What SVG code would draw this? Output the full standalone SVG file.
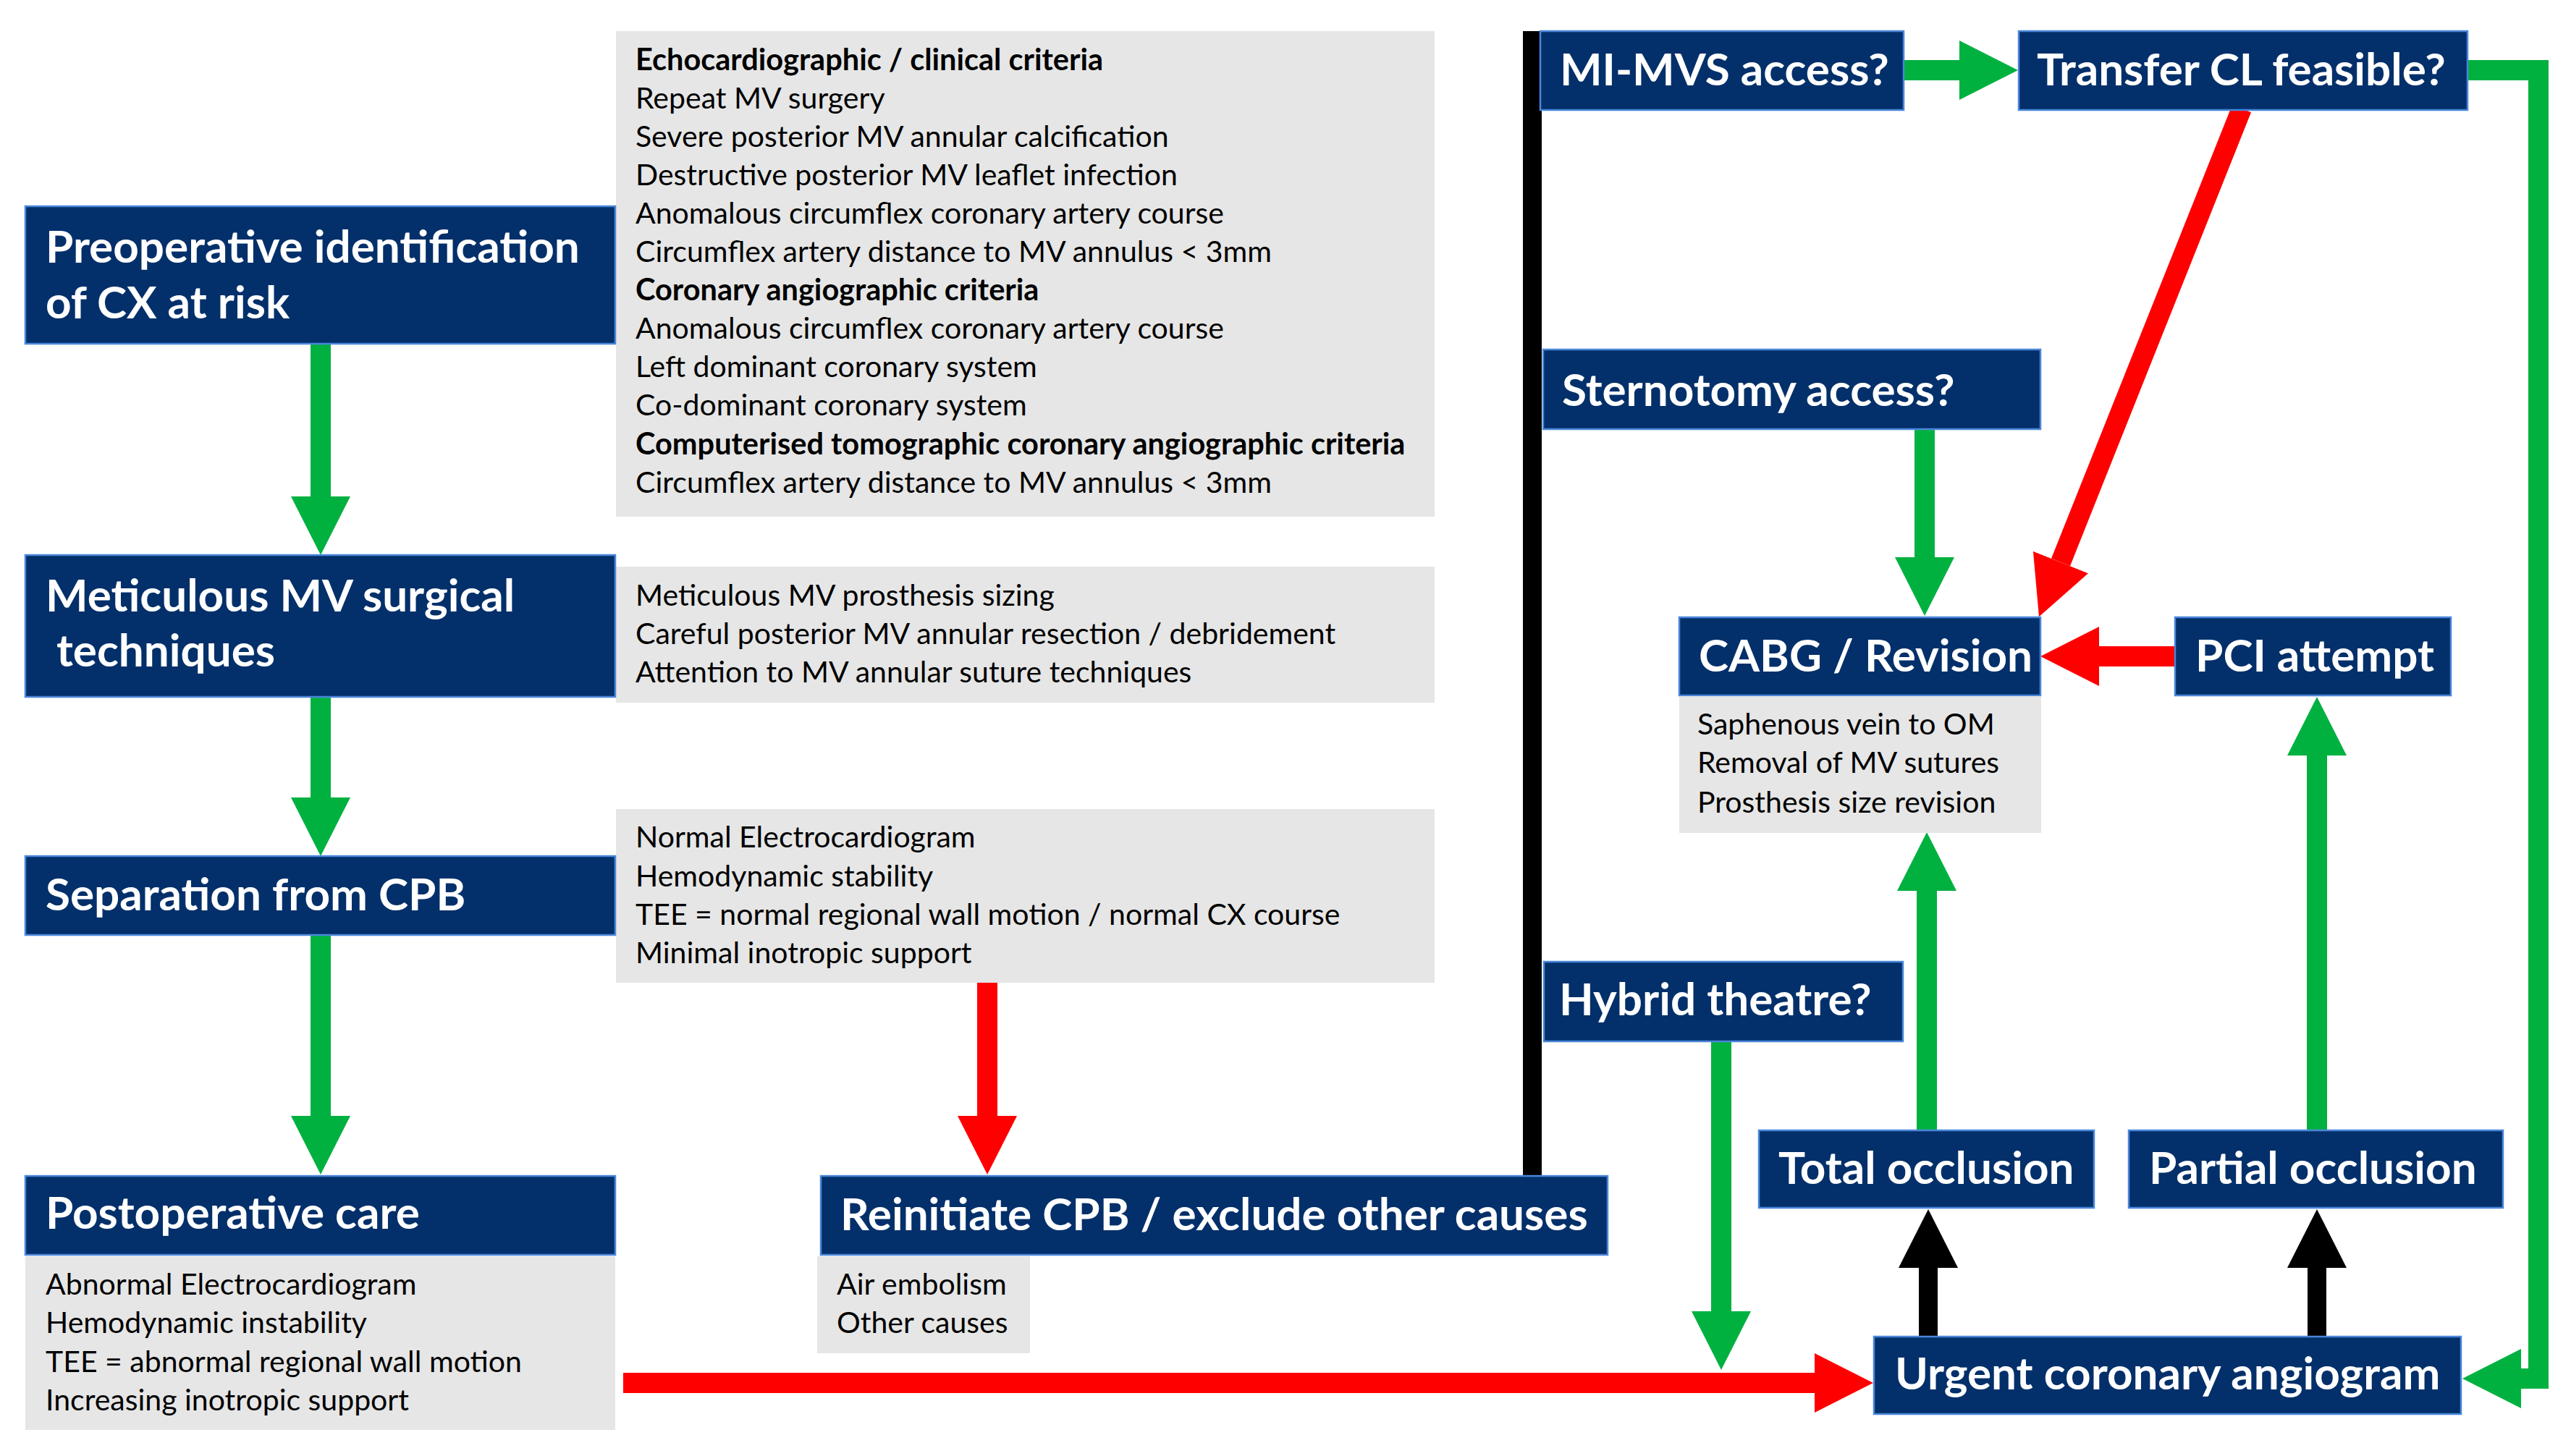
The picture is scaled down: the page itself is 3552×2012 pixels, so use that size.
<svg xmlns="http://www.w3.org/2000/svg" width="3552" height="2012" viewBox="0 0 3552 2012">
<defs>
<style>
.node{fill:#03306A;stroke:#4A86DA;stroke-width:2.5}
.grey{fill:#E6E6E6}
.t{font-family:Lato,"Liberation Sans",sans-serif;font-weight:bold;font-size:62px;fill:#FFFFFF}
.b{font-family:Lato,"Liberation Sans",sans-serif;font-size:41px;fill:#000000}
.bb{font-weight:bold;font-size:41.5px}
.g{stroke:#00B140;stroke-width:28;fill:none}
.r{stroke:#FF0000;stroke-width:28;fill:none}
.k{stroke:#000000;stroke-width:26;fill:none}
</style>
<marker id="hg" markerUnits="userSpaceOnUse" viewBox="0 0 81 82" markerWidth="81" markerHeight="82" refX="0" refY="41" orient="auto"><path d="M0,0 L81,41 L0,82 z" fill="#00B140"/></marker>
<marker id="hr" markerUnits="userSpaceOnUse" viewBox="0 0 81 82" markerWidth="81" markerHeight="82" refX="0" refY="41" orient="auto"><path d="M0,0 L81,41 L0,82 z" fill="#FF0000"/></marker>
<marker id="hk" markerUnits="userSpaceOnUse" viewBox="0 0 81 82" markerWidth="81" markerHeight="82" refX="0" refY="41" orient="auto"><path d="M0,0 L81,41 L0,82 z" fill="#000000"/></marker>
</defs>
<rect width="3552" height="2012" fill="#FFFFFF"/>

<g id="connectors">
<line class="g" x1="443" y1="475" x2="443" y2="686" marker-end="url(#hg)"/>
<line class="g" x1="443" y1="963" x2="443" y2="1102" marker-end="url(#hg)"/>
<line class="g" x1="443" y1="1292" x2="443" y2="1542" marker-end="url(#hg)"/>
<line class="r" x1="1364" y1="1358" x2="1364" y2="1542" marker-end="url(#hr)"/>
<line class="r" x1="861" y1="1911" x2="2507" y2="1911" marker-end="url(#hr)"/>
<line class="k" x1="2117" y1="43" x2="2117" y2="1625"/>
<line class="g" x1="2630" y1="97" x2="2707" y2="97" marker-end="url(#hg)"/>
<polyline class="g" points="3409,97 3507,97 3507,1905 3483,1905" marker-end="url(#hg)"/>
<line class="r" x1="3097" y1="150" x2="2847" y2="777" marker-end="url(#hr)"/>
<line class="g" x1="2659" y1="593" x2="2659" y2="770" marker-end="url(#hg)"/>
<line class="r" x1="3005" y1="907" x2="2900" y2="907" marker-end="url(#hr)"/>
<line class="g" x1="2378" y1="1439" x2="2378" y2="1812" marker-end="url(#hg)"/>
<line class="g" x1="2662" y1="1562" x2="2662" y2="1231" marker-end="url(#hg)"/>
<line class="g" x1="3201" y1="1562" x2="3201" y2="1044" marker-end="url(#hg)"/>
<line class="k" x1="2664" y1="1847" x2="2664" y2="1752" marker-end="url(#hk)"/>
<line class="k" x1="3201" y1="1847" x2="3201" y2="1752" marker-end="url(#hk)"/>
</g>

<g id="criteria">
<rect class="grey" x="851" y="43" width="1131" height="671"/>
<text class="b" x="878"><tspan class="bb" y="97">Echocardiographic / clinical criteria</tspan><tspan x="878" y="150">Repeat MV surgery</tspan><tspan x="878" y="203">Severe posterior MV annular calcification</tspan><tspan x="878" y="256">Destructive posterior MV leaflet infection</tspan><tspan x="878" y="309">Anomalous circumflex coronary artery course</tspan><tspan x="878" y="362">Circumflex artery distance to MV annulus &lt; 3mm</tspan><tspan x="878" y="415" class="bb">Coronary angiographic criteria</tspan><tspan x="878" y="468">Anomalous circumflex coronary artery course</tspan><tspan x="878" y="521">Left dominant coronary system</tspan><tspan x="878" y="574">Co-dominant coronary system</tspan><tspan x="878" y="628" class="bb">Computerised tomographic coronary angiographic criteria</tspan><tspan x="878" y="681">Circumflex artery distance to MV annulus &lt; 3mm</tspan></text>
</g>
<g id="preop">
<rect class="node" x="35" y="285" width="815" height="190"/>
<text class="t" x="63" y="363">Preoperative identification</text>
<text class="t" x="63" y="440">of CX at risk</text>
</g>
<g id="techniques-list">
<rect class="grey" x="851" y="783" width="1131" height="188"/>
<text class="b" x="878" y="837">Meticulous MV prosthesis sizing</text>
<text class="b" x="878" y="890">Careful posterior MV annular resection / debridement</text>
<text class="b" x="878" y="943">Attention to MV annular suture techniques</text>
</g>
<g id="meticulous">
<rect class="node" x="35" y="767" width="815" height="196"/>
<text class="t" x="63" y="845">Meticulous MV surgical</text>
<text class="t" x="78" y="921">techniques</text>
</g>
<g id="separation-list">
<rect class="grey" x="851" y="1118" width="1131" height="240"/>
<text class="b" x="878" y="1171">Normal Electrocardiogram</text>
<text class="b" x="878" y="1225">Hemodynamic stability</text>
<text class="b" x="878" y="1278">TEE = normal regional wall motion / normal CX course</text>
<text class="b" x="878" y="1331">Minimal inotropic support</text>
</g>
<g id="separation">
<rect class="node" x="35" y="1183" width="815" height="109"/>
<text class="t" x="63" y="1258">Separation from CPB</text>
</g>
<g id="postop">
<rect class="node" x="35" y="1625" width="815" height="109"/>
<text class="t" x="63" y="1698">Postoperative care</text>
<rect class="grey" x="35" y="1736" width="815" height="240"/>
<text class="b" x="63" y="1789">Abnormal Electrocardiogram</text>
<text class="b" x="63" y="1842">Hemodynamic instability</text>
<text class="b" x="63" y="1896">TEE = abnormal regional wall motion</text>
<text class="b" x="63" y="1949">Increasing inotropic support</text>
</g>
<g id="reinitiate">
<rect class="node" x="1134" y="1625" width="1087" height="109"/>
<text class="t" x="1161" y="1700">Reinitiate CPB / exclude other causes</text>
<rect class="grey" x="1129" y="1736" width="294" height="134"/>
<text class="b" x="1156" y="1789">Air embolism</text>
<text class="b" x="1156" y="1842">Other causes</text>
</g>
<g id="mimvs">
<rect class="node" x="2128" y="43" width="502" height="109"/>
<text class="t" x="2155" y="118">MI-MVS access?</text>
</g>
<g id="transfer">
<rect class="node" x="2789" y="43" width="620" height="109"/>
<text class="t" x="2814" y="118">Transfer CL feasible?</text>
</g>
<g id="sternotomy">
<rect class="node" x="2132" y="483" width="687" height="110"/>
<text class="t" x="2158" y="561">Sternotomy access?</text>
</g>
<g id="cabg">
<rect class="node" x="2320" y="853" width="499" height="108"/>
<text class="t" x="2347" y="928">CABG / Revision</text>
<rect class="grey" x="2320" y="962" width="500" height="189"/>
<text class="b" x="2345" y="1015">Saphenous vein to OM</text>
<text class="b" x="2345" y="1068">Removal of MV sutures</text>
<text class="b" x="2345" y="1123">Prosthesis size revision</text>
</g>
<g id="pci">
<rect class="node" x="3005" y="853" width="381" height="108"/>
<text class="t" x="3033" y="928">PCI attempt</text>
</g>
<g id="hybrid">
<rect class="node" x="2133" y="1329" width="496" height="110"/>
<text class="t" x="2154" y="1403">Hybrid theatre?</text>
</g>
<g id="total">
<rect class="node" x="2430" y="1562" width="463" height="107"/>
<text class="t" x="2457" y="1636">Total occlusion</text>
</g>
<g id="partial">
<rect class="node" x="2941" y="1562" width="517" height="107"/>
<text class="t" x="2969" y="1636">Partial occlusion</text>
</g>
<g id="urgent">
<rect class="node" x="2589" y="1847" width="811" height="107"/>
<text class="t" x="2618" y="1920">Urgent coronary angiogram</text>
</g>
</svg>
